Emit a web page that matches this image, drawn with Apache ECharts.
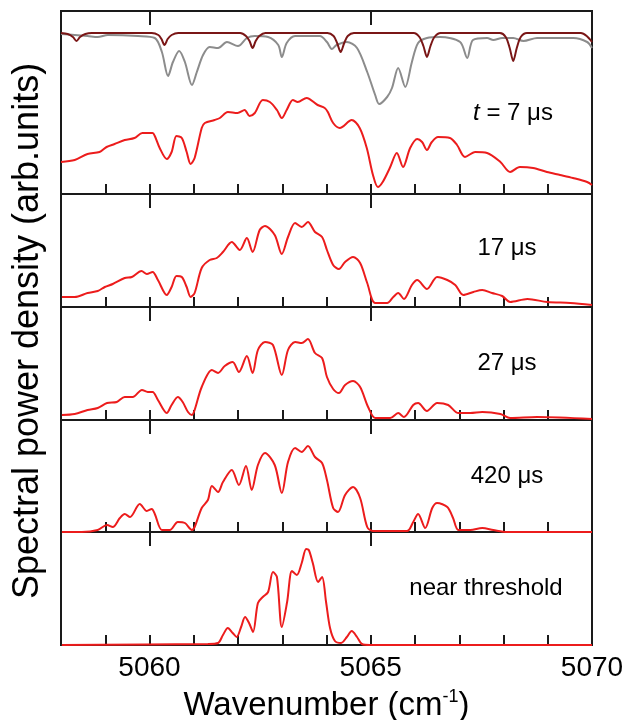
<!DOCTYPE html>
<html>
<head>
<meta charset="utf-8">
<script src="https://cdn.jsdelivr.net/npm/echarts@6/dist/echarts.min.js"></script>
<style>
html,body{margin:0;padding:0;background:#fff;}
#c{width:627px;height:720px;}
</style>
</head>
<body>
<div id="c"></div>
<script>
// ---- Data (wavenumber in cm^-1, intensity in arbitrary units) ----
const xMin = 5058, xMax = 5070;
const tickLabels = [5060, 5065, 5070];
const panelLabels = ['{i|t} = 7 \u03bcs', '17 \u03bcs', '27 \u03bcs', '420 \u03bcs', 'near threshold'];

const spec7us = [
[5058.00,32],[5058.31,34],[5058.60,40],[5058.87,42],[5059.03,47],[5059.21,50],[5059.44,54],[5059.66,56],
[5059.84,61],[5060.07,61],[5060.12,58],[5060.23,46],[5060.39,35],[5060.50,42],[5060.61,58],[5060.73,56],
[5060.84,42],[5060.93,30],[5061.02,36],[5061.18,66],[5061.25,71],[5061.47,74],[5061.59,76],[5061.77,82],
[5061.99,81],[5062.15,84],[5062.26,78],[5062.38,81],[5062.56,94],[5062.72,92],[5062.88,84],[5062.99,76],
[5063.10,84],[5063.24,94],[5063.35,92],[5063.55,96],[5063.80,89],[5063.96,86],[5064.03,82],[5064.15,71],
[5064.30,66],[5064.57,74],[5064.75,66],[5064.91,46],[5065.05,19],[5065.16,7],[5065.27,12],[5065.43,26],
[5065.59,41],[5065.73,27],[5065.89,46],[5066.05,55],[5066.16,52],[5066.27,44],[5066.38,52],[5066.52,57],
[5066.79,56],[5066.95,49],[5067.13,37],[5067.36,42],[5067.63,41],[5067.93,32],[5068.15,22],[5068.37,27],
[5068.67,26],[5068.98,22],[5069.28,19],[5069.57,16],[5069.89,12],[5070.00,9]
];

const refGray = [
[5058.00,160],[5058.31,159],[5058.60,158],[5058.83,157],[5059.06,159],[5059.74,158],[5060.12,156],[5060.28,142],
[5060.42,118],[5060.53,132],[5060.67,143],[5060.80,132],[5060.96,109],[5061.07,122],[5061.21,139],[5061.36,147],
[5061.55,146],[5061.75,152],[5062.00,148],[5062.20,156],[5062.38,158],[5062.68,157],[5062.91,149],[5062.99,137],
[5063.10,151],[5063.29,158],[5063.85,158],[5064.01,152],[5064.12,145],[5064.23,149],[5064.46,152],[5064.69,146],
[5064.92,122],[5065.10,99],[5065.19,90],[5065.37,97],[5065.48,106],[5065.62,126],[5065.78,107],[5065.93,132],
[5066.07,151],[5066.27,156],[5066.57,157],[5067.02,152],[5067.18,136],[5067.31,154],[5067.63,156],[5067.77,154],
[5067.97,156],[5068.22,156],[5068.45,153],[5068.76,156],[5069.12,156],[5069.58,156],[5069.89,152],[5070.00,146]
];

const refMaroon = [
[5058.00,161],[5058.15,160],[5058.27,157],[5058.35,153],[5058.43,157],[5058.55,160],[5058.70,161],
[5060.05,161],[5060.20,159],[5060.27,155],[5060.34,149],[5060.41,155],[5060.50,159],[5060.65,161],
[5062.05,161],[5062.18,158],[5062.26,153],[5062.33,146],[5062.40,153],[5062.48,158],[5062.62,161],
[5064.02,161],[5064.16,158],[5064.24,151],[5064.32,142],[5064.40,151],[5064.48,158],[5064.62,161],
[5065.97,161],[5066.10,157],[5066.19,148],[5066.27,137],[5066.35,148],[5066.44,157],[5066.58,161],
[5067.92,161],[5068.05,157],[5068.14,146],[5068.22,133],[5068.30,146],[5068.39,157],[5068.53,161],
[5069.75,161],[5069.88,158],[5070.00,152]
];

const spec17us = [
[5058.02,10],[5058.31,10],[5058.60,14],[5058.83,16],[5058.99,20],[5059.17,23],[5059.44,29],[5059.60,30],
[5059.82,36],[5059.94,33],[5060.07,35],[5060.19,27],[5060.39,12],[5060.50,20],[5060.61,31],[5060.73,30],
[5060.84,20],[5060.93,10],[5061.02,14],[5061.18,39],[5061.36,47],[5061.52,49],[5061.66,55],[5061.86,65],
[5062.04,57],[5062.20,69],[5062.33,55],[5062.49,77],[5062.61,81],[5062.83,72],[5062.99,53],[5063.13,70],
[5063.29,84],[5063.44,80],[5063.58,85],[5063.74,75],[5063.90,70],[5064.01,57],[5064.15,42],[5064.28,38],
[5064.42,45],[5064.60,50],[5064.76,44],[5064.92,24],[5065.10,4],[5065.37,4],[5065.51,10],[5065.62,14],
[5065.75,8],[5065.93,22],[5066.05,27],[5066.27,18],[5066.50,30],[5066.73,27],[5066.91,22],[5067.09,12],
[5067.32,15],[5067.52,17],[5067.74,14],[5067.97,11],[5068.15,5],[5068.54,8],[5068.99,5],[5069.51,4],[5070.00,2]
];

const spec27us = [
[5058.02,5],[5058.31,6],[5058.60,10],[5058.83,12],[5059.04,17],[5059.26,18],[5059.44,23],[5059.62,23],
[5059.83,30],[5059.96,28],[5060.07,28],[5060.19,20],[5060.39,7],[5060.50,15],[5060.64,23],[5060.75,18],
[5060.87,8],[5060.96,5],[5061.02,10],[5061.18,33],[5061.41,50],[5061.55,47],[5061.70,54],[5061.88,58],
[5062.02,48],[5062.20,64],[5062.33,47],[5062.45,70],[5062.61,78],[5062.79,75],[5062.99,45],[5063.13,70],
[5063.29,78],[5063.44,77],[5063.58,81],[5063.74,67],[5063.90,62],[5064.01,43],[5064.15,31],[5064.28,27],
[5064.42,35],[5064.60,39],[5064.76,33],[5064.94,13],[5065.10,2],[5065.44,2],[5065.62,7],[5065.75,3],
[5065.96,15],[5066.07,17],[5066.27,9],[5066.50,17],[5066.75,15],[5066.98,7],[5067.25,7],[5067.52,8],
[5067.93,6],[5068.15,2],[5068.76,3],[5070.00,1]
];

const spec420us = [
[5058.02,0],[5058.47,0],[5058.83,2],[5059.04,7],[5059.17,5],[5059.33,14],[5059.44,18],[5059.56,15],
[5059.78,28],[5059.94,21],[5060.05,23],[5060.12,18],[5060.28,2],[5060.46,2],[5060.64,10],[5060.80,9],
[5060.96,2],[5061.02,5],[5061.18,24],[5061.32,32],[5061.41,46],[5061.55,40],[5061.66,50],[5061.86,62],
[5062.02,47],[5062.18,66],[5062.31,42],[5062.45,67],[5062.61,79],[5062.83,67],[5062.99,39],[5063.13,70],
[5063.29,84],[5063.44,80],[5063.58,86],[5063.74,75],[5063.90,69],[5064.01,52],[5064.15,24],[5064.26,20],
[5064.42,37],[5064.60,45],[5064.76,34],[5064.92,5],[5065.05,1],[5065.82,1],[5065.96,10],[5066.07,18],
[5066.23,4],[5066.39,24],[5066.50,29],[5066.73,25],[5066.86,14],[5066.98,2],[5067.25,2],[5067.52,4],
[5067.77,2],[5068.08,0],[5070.00,0]
];

const specThreshold = [
[5058.02,0],[5061.32,1],[5061.55,2],[5061.66,10],[5061.77,17],[5061.88,12],[5061.97,8],[5062.07,18],
[5062.16,28],[5062.25,22],[5062.34,13],[5062.45,42],[5062.56,48],[5062.68,53],[5062.79,73],[5062.88,68],
[5062.99,18],[5063.11,43],[5063.22,74],[5063.33,70],[5063.44,82],[5063.54,96],[5063.60,95],[5063.69,82],
[5063.81,63],[5063.90,68],[5063.99,43],[5064.08,17],[5064.19,4],[5064.33,2],[5064.46,8],[5064.57,14],
[5064.69,8],[5064.80,1],[5064.98,0],[5070.00,0]
];

// ---- Layout ----
const panels = [
  {top: 11,  height: 183, ymax: 183},
  {top: 194, height: 113, ymax: 113},
  {top: 307, height: 113, ymax: 113},
  {top: 420, height: 112, ymax: 112},
  {top: 532, height: 113, ymax: 113}
];
const labelPos = [[513,113],[507,248],[507,363],[507,476],[486,588]];
const FONT = 'Liberation Sans, Arial, sans-serif';
const RED = '#ec1c1c';

const grids = [], xAxes = [], yAxes = [], series = [], graphics = [];
panels.forEach((p, i) => {
  grids.push({left: 61, width: 531, top: p.top, height: p.height, show: true,
    containLabel: false, outerBoundsMode: 'none',
    borderColor: '#1a1a1a', borderWidth: 2, backgroundColor: 'transparent'});
  const last = i === panels.length - 1;
  xAxes.push({type: 'value', gridIndex: i, min: xMin, max: xMax, interval: 1,
    axisLine: {show: false}, splitLine: {show: false},
    axisTick: {show: true, inside: true, length: 10, lineStyle: {color: '#1a1a1a', width: 2}},
    axisLabel: {show: last, margin: 9, fontSize: 28, color: '#000', fontFamily: FONT,
      formatter: v => (tickLabels.indexOf(v) >= 0 ? String(v) : '')},
    name: last ? '{a|Wavenumber (cm}{s|-1}{a|)}' : '',
    nameLocation: 'middle', nameGap: 43,
    nameTextStyle: {rich: {
      a: {fontSize: 33, fontFamily: FONT, color: '#000', lineHeight: 36},
      s: {fontSize: 18, fontFamily: FONT, color: '#000', lineHeight: 36, verticalAlign: 'top'}
    }}
  });
  yAxes.push({type: 'value', gridIndex: i, min: 0, max: p.ymax, show: false});
  graphics.push({x: labelPos[i][0], y: labelPos[i][1],
    style: {text: panelLabels[i], font: '24px ' + FONT, fill: '#000',
      align: 'center', verticalAlign: 'middle',
      rich: {i: {fontStyle: 'italic', fontSize: 24, fontFamily: FONT}}}});
});
// longer major ticks
panels.forEach((p, i) => {
  xAxes.push({type: 'value', gridIndex: i, min: xMin, max: xMax,
    axisLine: {show: false}, splitLine: {show: false}, axisLabel: {show: false},
    axisTick: {show: true, inside: true, length: 14, customValues: [5060, 5065],
      lineStyle: {color: '#1a1a1a', width: 2}}});
});

function line(data, idx, color, z) {
  return {type: 'line', xAxisIndex: idx, yAxisIndex: idx, data: data, showSymbol: false,
    smooth: 0.3, z: z || 2, lineStyle: {color: color, width: 2}, itemStyle: {color: color},
    animation: false};
}
series.push(line(refGray, 0, '#8c8c8c', 2));
series.push(line(refMaroon, 0, '#7a1616', 3));
series.push(line(spec7us, 0, RED, 4));
series.push(line(spec17us, 1, RED));
series.push(line(spec27us, 2, RED));
series.push(line(spec420us, 3, RED));
series.push(line(specThreshold, 4, RED));

const chart = echarts.init(document.getElementById('c'), null, {renderer: 'canvas'});
chart.setOption({
  animation: false,
  backgroundColor: '#fff',
  grid: grids, xAxis: xAxes, yAxis: yAxes, series: series,
  graphic: [
    {type: 'text', x: 28, y: 331, rotation: Math.PI / 2,
     style: {text: 'Spectral power density (arb.units)', font: '36px ' + FONT, fill: '#000',
       align: 'center', verticalAlign: 'middle'}}
  ].concat(graphics.map(g => ({type: 'text', x: g.x, y: g.y, style: g.style})))
});
</script>
</body>
</html>
